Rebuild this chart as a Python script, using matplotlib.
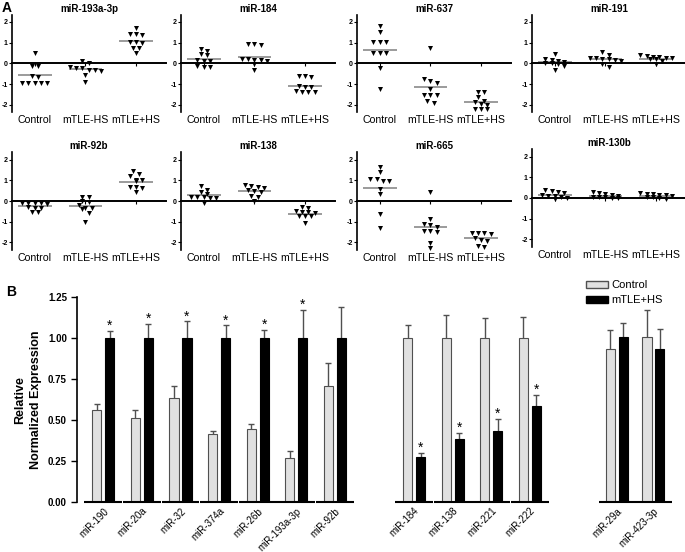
import numpy as np
import matplotlib
matplotlib.use('Agg')
import matplotlib.pyplot as plt
from matplotlib.patches import Patch

plt.rcParams['font.family'] = ['Liberation Sans', 'DejaVu Sans']
plt.rcParams['axes.unicode_minus'] = False

# ---------------- Panel A data ----------------
groups = ['Control', 'mTLE-HS', 'mTLE+HS']
panel_titles = ['miR-193a-3p', 'miR-184', 'miR-637', 'miR-191',
                'miR-92b', 'miR-138', 'miR-665', 'miR-130b']

mir_193a_3p = [[0.48, -0.14, -0.11, -0.62, -0.66, -0.95, -0.96, -0.95, -0.97, -0.96],
               [0.12, 0.03, -0.2, -0.25, -0.3, -0.3, -0.25, -0.35, -0.55, -0.88],
               [1.7, 1.4, 1.42, 1.35, 1.05, 1.05, 1.0, 0.75, 0.75, 0.5]]
mir_184 = [[0.7, 0.6, 0.45, 0.4, 0.15, 0.1, 0.1, -0.15, -0.2, -0.2],
           [0.95, 0.88, 0.93, 0.2, 0.15, 0.1, 0.15, 0.2, -0.05, -0.3],
           [-0.6, -0.65, -0.6, -1.1, -1.15, -1.15, -1.4, -1.4, -1.4, -1.35]]
mir_637 = [[1.8, 1.5, 1.05, 1.05, 1.05, 0.5, 0.5, 0.5, -0.25, -1.25],
           [0.75, -0.75, -0.85, -0.95, -1.25, -1.55, -1.55, -1.55, -1.8, -1.9],
           [-1.4, -1.4, -1.65, -1.8, -1.85, -1.95, -2.0, -2.2, -2.2, -2.2]]
mir_191 = [[0.45, 0.15, 0.1, 0.05, 0.0, 0.0, -0.05, 0.2, -0.15, -0.3],
           [0.55, 0.4, 0.25, 0.25, 0.2, 0.15, 0.2, 0.1, -0.05, -0.2],
           [0.4, 0.35, 0.3, 0.3, 0.25, 0.25, 0.2, 0.2, 0.1, -0.05]]
mir_92b = [[-0.1, -0.1, -0.1, -0.15, -0.08, -0.35, -0.35, -0.3, -0.55, -0.55],
           [0.2, 0.2, 0.0, -0.05, -0.2, -0.35, -0.35, -0.4, -0.6, -1.0],
           [1.45, 1.3, 1.2, 1.0, 1.0, 0.95, 0.7, 0.7, 0.65, 0.45]]
mir_138 = [[0.75, 0.55, 0.45, 0.35, 0.2, 0.2, 0.15, 0.2, 0.15, -0.1],
           [0.8, 0.72, 0.7, 0.65, 0.55, 0.5, 0.45, 0.25, 0.2, 0.0],
           [-0.3, -0.35, -0.5, -0.55, -0.55, -0.6, -0.75, -0.75, -1.05, -0.75]]
mir_665 = [[1.67, 1.43, 1.06, 0.98, 0.98, 1.06, 0.57, 0.36, -0.65, -1.3],
           [0.45, -0.85, -1.15, -1.1, -1.25, -1.45, -1.5, -1.45, -2.05, -2.3],
           [-1.55, -1.55, -1.55, -1.6, -1.8, -1.9, -1.95, -2.2, -2.25]]
mir_130b = [[0.4, 0.35, 0.3, 0.25, 0.15, 0.1, 0.1, 0.05, 0.0, -0.05],
            [0.3, 0.25, 0.2, 0.15, 0.1, 0.05, 0.05, 0.05, 0.0, 0.0],
            [0.25, 0.2, 0.2, 0.15, 0.15, 0.1, 0.05, 0.05, 0.0, -0.05]]
panel_data = [mir_193a_3p, mir_184, mir_637, mir_191,
              mir_92b, mir_138, mir_665, mir_130b]

# ---------------- Panel B data ----------------
mirs_up = ['miR-190', 'miR-20a', 'miR-32', 'miR-374a', 'miR-26b', 'miR-193a-3p', 'miR-92b']
up_ctrl = [0.558, 0.513, 0.635, 0.41, 0.442, 0.264, 0.706]
up_ctrl_err = [0.04, 0.045, 0.071, 0.02, 0.031, 0.046, 0.14]
up_hs = [1.0, 1.0, 1.0, 1.0, 1.0, 1.0, 1.0]
up_hs_err = [0.04, 0.085, 0.10, 0.075, 0.049, 0.17, 0.187]
up_sig = [True, True, True, True, True, True, False]

mirs_down = ['miR-184', 'miR-138', 'miR-221', 'miR-222']
down_ctrl = [1.0, 1.0, 1.0, 1.0]
down_ctrl_err = [0.075, 0.136, 0.12, 0.125]
down_hs = [0.274, 0.383, 0.434, 0.582]
down_hs_err = [0.026, 0.037, 0.073, 0.071]
down_sig = [True, True, True, True]

mirs_nc = ['miR-29a', 'miR-423-3p']
nc_ctrl = [0.929, 1.004]
nc_ctrl_err = [0.12, 0.162]
nc_hs = [1.004, 0.929]
nc_hs_err = [0.085, 0.126]
nc_sig = [False, False]

# ---------------- figure ----------------
W, H = 685, 552
fig = plt.figure(figsize=(W / 100, H / 100), dpi=100)


def px_axes(x0, y0, x1, y1):
    return fig.add_axes([x0 / W, 1 - y1 / H, (x1 - x0) / W, (y1 - y0) / H])


def swarm(vals, ythr=0.2, dx=0.125, maxw=0.7):
    vals = np.asarray(vals, float)
    order = np.argsort(-vals, kind='stable')
    rows = []
    for i in order:
        if rows and abs(vals[rows[-1][0]] - vals[i]) < ythr:
            rows[-1].append(i)
        else:
            rows.append([i])
    offs = np.zeros(len(vals))
    for r in rows:
        n = len(r)
        step = dx if (n - 1) * dx <= maxw else maxw / (n - 1)
        for k, i in enumerate(r):
            offs[i] = (k - (n - 1) / 2) * step
    return offs


lefts = [12, 181, 357, 532]
rows_geo = [(15, 112, (-2.35, 2.33)), (152, 250, (-2.38, 2.38))]
for idx, (title, data) in enumerate(zip(panel_titles, panel_data)):
    r, c = divmod(idx, 4)
    top, bot, ylim = rows_geo[r]
    if idx == 7:
        top -= 3
        bot -= 3
    ax = px_axes(lefts[c], top, lefts[c] + 154, bot)
    ax.set_ylim(*ylim)
    ax.set_xlim(-0.45, 2.59)
    for s in ['top', 'right']:
        ax.spines[s].set_visible(False)
    ax.spines['bottom'].set_position(('data', 0))
    ax.spines['bottom'].set_linewidth(1.4)
    ax.spines['left'].set_linewidth(1.2)
    ax.set_xticks(range(3))
    ax.tick_params(axis='x', length=2.5, width=0.8, labelbottom=False, direction='out')
    ax.set_yticks([-2, -1, 0, 1, 2])
    ax.tick_params(axis='y', length=2, width=0.8, pad=1, labelsize=5)
    for lab in ax.get_yticklabels():
        lab.set_fontweight('bold')
    sec = ax.secondary_xaxis('bottom')
    sec.set_xticks(range(3), labels=groups)
    sec.tick_params(length=0, pad=2.5, labelsize=7.6)
    sec.spines['bottom'].set_visible(False)
    for j, vals in enumerate(data):
        off = swarm(vals)
        ax.scatter(j + off, vals, marker='v', s=13, c='black', linewidths=0, zorder=3)
        m = np.mean(vals)
        ax.hlines(m, j - 0.33, j + 0.33, color='#808080', lw=1.1, zorder=2)
    ax.set_title(title, fontsize=7, fontweight='bold', pad=2)

# ---------------- Panel B ----------------
axb = px_axes(76.7, 296.7, 680, 501.7)
axb.set_ylim(0, 1.25)
axb.set_xlim(-0.69, 14.94)
for s in ['top', 'right', 'bottom']:
    axb.spines[s].set_visible(False)
axb.spines['left'].set_linewidth(1.2)
axb.set_yticks([0, 0.25, 0.5, 0.75, 1.0, 1.25])
axb.set_yticklabels(['%.2f' % v for v in [0, 0.25, 0.5, 0.75, 1.0, 1.25]])
axb.tick_params(axis='y', length=4, width=1, pad=3, labelsize=7)
for lab in axb.get_yticklabels():
    lab.set_fontweight('bold')

pos_up = np.arange(len(mirs_up), dtype=float)
pos_down = 8.05 + np.arange(len(mirs_down))
pos_nc = 13.3 + 0.95 * np.arange(len(mirs_nc))

all_pos, all_labels = [], []
off, bw = 0.168, 0.24
for pos, names, c, ce, h, he, sig in [
        (pos_up, mirs_up, up_ctrl, up_ctrl_err, up_hs, up_hs_err, up_sig),
        (pos_down, mirs_down, down_ctrl, down_ctrl_err, down_hs, down_hs_err, down_sig),
        (pos_nc, mirs_nc, nc_ctrl, nc_ctrl_err, nc_hs, nc_hs_err, nc_sig)]:
    c = np.asarray(c); ce = np.asarray(ce); h = np.asarray(h); he = np.asarray(he)
    axb.bar(pos - off, c, width=bw, color='#e0e0e0', edgecolor='#505050', lw=0.8, zorder=2)
    axb.bar(pos + off, h, width=bw, color='black', edgecolor='black', lw=0.8, zorder=2)
    for xs, tops, errs in [(pos - off, c, ce), (pos + off, h, he)]:
        axb.vlines(xs, tops, tops + errs, color='#505050', lw=1.0, zorder=1)
        axb.plot(xs, tops + errs, ls='none', marker='_', ms=5, mew=1.0, color='#505050', zorder=1)
    for x, t, e, s in zip(pos + off, h, he, sig):
        if s:
            axb.annotate('*', (x, t + e), xytext=(0, -1.5), textcoords='offset points',
                         ha='center', va='bottom', fontsize=10)
    half = 0.47 if len(pos) < 3 else 0.49
    axb.hlines(np.zeros(len(pos)), pos - half, pos + half, color='black', lw=1.5, clip_on=False, zorder=3)
    all_pos += list(pos)
    all_labels += list(names)

axb.set_xticks(all_pos)
axb.set_xticklabels(all_labels, rotation=45, ha='right', rotation_mode='anchor', fontsize=7)
axb.tick_params(axis='x', length=0, pad=3)

handles = [Patch(facecolor='#e0e0e0', edgecolor='#505050', label='Control'),
           Patch(facecolor='black', edgecolor='black', label='mTLE+HS')]
fig.legend(handles=handles, loc='upper left', bbox_to_anchor=(586 / W, 1 - 280 / H),
           frameon=False, fontsize=8, handlelength=2.0, handleheight=0.6,
           borderpad=0, borderaxespad=0, labelspacing=0.45, handletextpad=0.3)

fig.text(2 / W, 1 - 1 / H, 'A', fontsize=10, fontweight='bold', va='top', ha='left')
fig.text(6 / W, 1 - 285 / H, 'B', fontsize=10, fontweight='bold', va='top', ha='left')
fig.text(28 / W, 1 - 400 / H, 'Relative\nNormalized Expression', rotation=90,
         ha='center', va='center', fontsize=9, fontweight='bold', linespacing=1.35)

fig.savefig('out.png', dpi=100)
